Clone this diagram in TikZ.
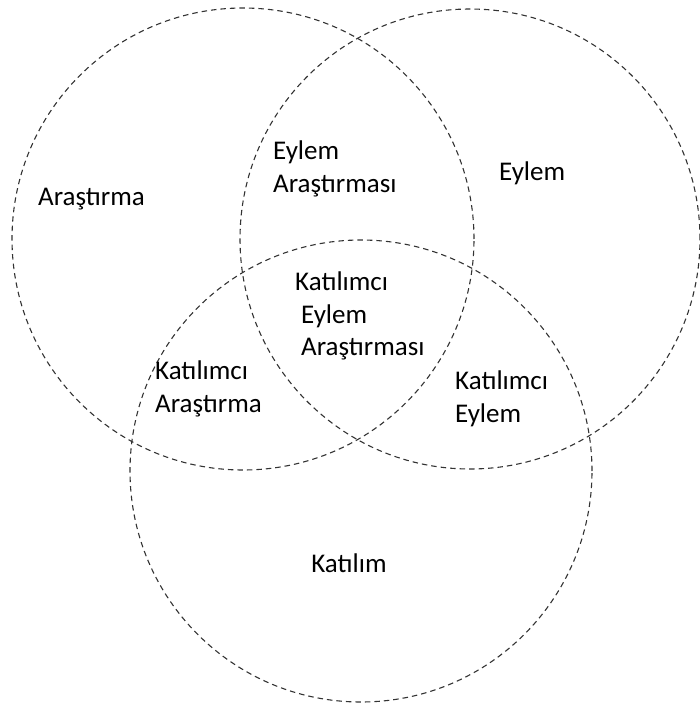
\documentclass[tikz,border=0pt]{standalone}
\usepackage{fontspec}
\setmainfont{Carlito}

\begin{document}
\begin{tikzpicture}[x=1pt,y=-1pt]
        \tikzstyle{venn}=[draw=black!80,line width=1.1pt,dash pattern=on 5.5pt off 4pt]
        \tikzstyle{every node}=[inner sep=0pt,align=left,font=\fontsize{27}{32.5}\selectfont]
        \useasboundingbox (0,0) rectangle (700,704);
        \draw[venn] (243,239) circle (231pt);
        \draw[venn] (470,239) circle (230pt);
        \draw[venn] (361,471) circle (231pt);
        \node[anchor=west] (arastirma) at (38,199) {Araştırma};
        \node[anchor=west] (eylem) at (499,173) {Eylem};
        \node[anchor=west] (eylemar) at (273,169) {Eylem\\Araştırması};
        \node[anchor=west] (kea) at (295,316) {Katılımcı\\\hspace*{6pt}Eylem\\\hspace*{6pt}Araştırması};
        \node[anchor=west] (katar) at (155,389) {Katılımcı\\Araştırma};
        \node[anchor=west] (katey) at (455,399) {Katılımcı\\Eylem};
        \node (katilim) at (349,563) {Katılım};
\end{tikzpicture}
\end{document}
